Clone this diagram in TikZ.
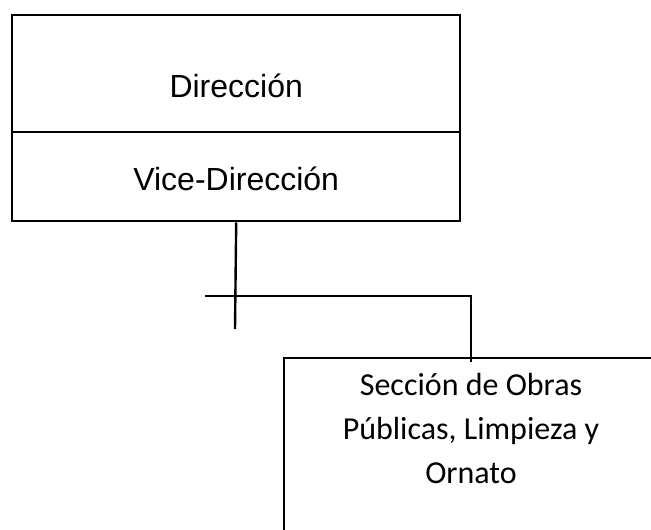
\documentclass[tikz,border=0pt]{standalone}
\usepackage{fontspec}
\setmainfont{Liberation Sans}
\newfontfamily\seccionfont{Carlito}
\usetikzlibrary{positioning}
\begin{document}
\begin{tikzpicture}
	[
		x                 = 1pt,
		y                 = -1pt,
		box/.style        = {draw, line width=2.4pt, inner sep=0pt, anchor=north west},
		link/.style       = {draw, line width=2.4pt},
		toptext/.style    = {font=\fontsize{32}{38}\selectfont},
		obrastext/.style  = {font=\seccionfont\fontsize{32}{44}\selectfont, align=center}
	]
	\useasboundingbox (0,0) rectangle (651,530);
	\node [box, minimum width=448pt, minimum height=117pt] (dir) at (11,14) {};
	\node [box, minimum width=448pt, minimum height=89pt] (vicedir) at (11,131) {};
	\node [toptext] (dirlabel) at ([yshift=-12pt]dir.center) {Dirección};
	\node [toptext] (vicelabel) at ([yshift=-2pt]vicedir.center) {Vice-Dirección};
	\node [box, minimum width=420pt, minimum height=210pt] (obras) at (283,357) {};
	\node [obrastext] (obraslabel) at (471,429)
		{Sección de Obras\\Públicas, Limpieza y\\Ornato};
	\coordinate (stub) at (235,329);
	\coordinate (hleft) at (205,296);
	\coordinate (hright) at (471,296);
	\coordinate (drop) at (471,362);
	\draw [link] (vicedir.south) -- (stub);
	\draw [link] (hleft) -- (hright) -- (drop);
\end{tikzpicture}
\end{document}
